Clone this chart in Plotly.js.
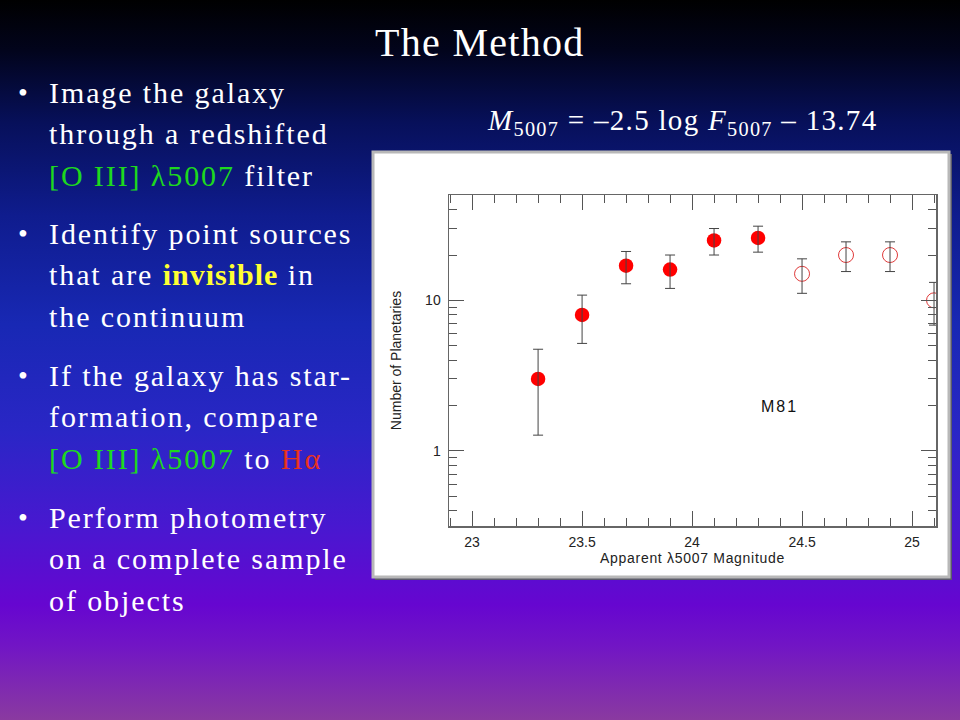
<!DOCTYPE html>
<html>
<head>
<meta charset="utf-8">
<script src="https://cdn.plot.ly/plotly-3.0.1.min.js"></script>
<style>
html,body{margin:0;padding:0;width:960px;height:720px;overflow:hidden;}
body{background:linear-gradient(to bottom,#000000 0%,#02041c 7%,#07105a 17%,#0f1c8e 30%,#1828b4 45%,#2a26c6 60%,#4818d0 73%,#6606d0 84%,#7216c4 90%,#8a3aa0 100%);}
#chart{width:960px;height:720px;}
</style>
</head>
<body>
<div id="chart"></div>
<script>
// ---- data ----
const magFilled = [23.3, 23.5, 23.7, 23.9, 24.1, 24.3];
const countFilled = [3, 8, 17, 16, 25, 26];
const errFilled = [1.73, 2.83, 4.12, 4.0, 5.0, 5.1];

const magOpen = [24.5, 24.7, 24.9, 25.1];
const countOpen = [15, 20, 20, 10];
const errOpen = [3.87, 4.47, 4.47, 3.16];

const xTickVals = [23, 23.5, 24, 24.5, 25];
const xTickText = ['23', '23.5', '24', '24.5', '25'];
const xMinorVals = [22.9, 23.1, 23.2, 23.3, 23.4, 23.6, 23.7, 23.8, 23.9, 24.1, 24.2, 24.3, 24.4, 24.6, 24.7, 24.8, 24.9, 25.1];
const yTickVals = [1, 10];
const yTickText = ['1', '10'];
const yMinorVals = [0.4, 0.5, 0.6, 0.7, 0.8, 0.9, 2, 3, 4, 5, 6, 7, 8, 9, 20, 30, 40];

const titleText = 'The Method';
const formulaText = '<i>M</i><sub>5007</sub> = \u20132.5 log <i>F</i><sub>5007</sub> \u2013 13.74';
const GREEN = '#1ed81e', YELLOW = '#ffff33', RED = '#e8321e';
const bulletLines = [
  ['Image the galaxy', 'through a redshifted', '<span style="color:' + GREEN + '">[O III] \u03bb5007</span> filter'],
  ['Identify point sources', 'that are <b><span style="color:' + YELLOW + ';letter-spacing:1px">invisible</span></b> in', 'the continuum'],
  ['If the galaxy has star-', 'formation, compare', '<span style="color:' + GREEN + '">[O III] \u03bb5007</span> to <span style="color:' + RED + '">H\u03b1</span>'],
  ['Perform photometry', 'on a complete sample', 'of objects']
];
const bulletTops = [92, 233, 375, 517];

// ---- layout geometry (pixels) ----
const W = 960, H = 720;
const ML = 449, MR = 24, MT = 195, MB = 194;
const PW = W - ML - MR, PH = H - MT - MB;
const PX = x => (x - ML) / PW;
const PY = y => (H - MB - y) / PH;
const spaced = (t, px) => '<span style="letter-spacing:' + px + 'px">' + t + '</span>';

const SERIF = 'Liberation Serif, Times New Roman, serif';
const SANS = 'Liberation Sans, Arial, sans-serif';

const annotations = [];
annotations.push({text: spaced(titleText, 1.3), x: PX(480), y: PY(42), xref: 'paper', yref: 'paper', xanchor: 'center', yanchor: 'middle', showarrow: false,
  font: {family: SERIF, size: 40, color: '#ffffff'}});
annotations.push({text: spaced(formulaText, 1.3), x: PX(682), y: PY(122), xref: 'paper', yref: 'paper', xanchor: 'center', yanchor: 'middle', showarrow: false,
  font: {family: SERIF, size: 29, color: '#ffffff'}});
bulletLines.forEach((lines, i) => {
  annotations.push({text: '\u2022', x: PX(16), y: PY(bulletTops[i]), xref: 'paper', yref: 'paper', xanchor: 'left', yanchor: 'middle', showarrow: false,
    font: {family: SERIF, size: 28, color: '#ffffff'}});
  lines.forEach((t, j) => {
    annotations.push({text: spaced(t, 1.9), x: PX(47), y: PY(bulletTops[i] + j * 41.5), xref: 'paper', yref: 'paper', xanchor: 'left', yanchor: 'middle', showarrow: false,
      font: {family: SERIF, size: 30, color: '#ffffff'}});
  });
});
annotations.push({text: spaced('M81', 2), x: PX(779), y: PY(406), xref: 'paper', yref: 'paper', xanchor: 'center', yanchor: 'middle', showarrow: false,
  font: {family: SANS, size: 16, color: '#111111'}});

const tickFont = {family: SANS, size: 14, color: '#222222'};
const titleFont = {family: SANS, size: 14, color: '#222222'};

const traces = [
  {x: magFilled, y: countFilled, type: 'scatter', mode: 'markers',
   marker: {symbol: 'circle', size: 14.5, color: '#ff0000', line: {width: 0}}, showlegend: false},
  {x: magOpen, y: countOpen, type: 'scatter', mode: 'markers',
   marker: {symbol: 'circle-open', size: 15, color: '#e03a3a', line: {width: 1, color: '#e03a3a'}}, showlegend: false},
  {x: magFilled, y: countFilled, type: 'scatter', mode: 'markers', marker: {size: 1, opacity: 0},
   error_y: {type: 'data', array: errFilled, symmetric: true, color: '#444444', thickness: 1, width: 5}, showlegend: false},
  {x: magOpen, y: countOpen, type: 'scatter', mode: 'markers', marker: {size: 1, opacity: 0},
   error_y: {type: 'data', array: errOpen, symmetric: true, color: '#444444', thickness: 1, width: 5}, showlegend: false}
];

const layout = {
  width: W, height: H,
  margin: {l: ML, r: MR, t: MT, b: MB, pad: 0},
  paper_bgcolor: 'rgba(0,0,0,0)',
  plot_bgcolor: '#ffffff',
  showlegend: false,
  xaxis: {
    range: [22.895, 25.109], tickvals: xTickVals, ticktext: xTickText,
    ticks: 'inside', ticklen: 15, tickwidth: 1, tickcolor: '#555555',
    showline: true, linecolor: '#666666', linewidth: 1.5, mirror: 'allticks',
    showgrid: false, zeroline: false, tickfont: tickFont, ticklabelstandoff: 3,
    minor: {tickvals: xMinorVals, ticks: 'inside', ticklen: 8, tickwidth: 1, tickcolor: '#555555', showgrid: false},
    title: {text: spaced('Apparent \u03bb5007 Magnitude', 0.7), font: titleFont, standoff: 4}
  },
  yaxis: {
    type: 'log', range: [-0.5, 1.7], tickvals: yTickVals, ticktext: yTickText,
    ticks: 'inside', ticklen: 15, tickwidth: 1, tickcolor: '#555555',
    showline: true, linecolor: '#666666', linewidth: 1.5, mirror: 'allticks',
    showgrid: false, zeroline: false, tickfont: tickFont, ticklabelstandoff: 4,
    minor: {tickvals: yMinorVals, ticks: 'inside', ticklen: 8, tickwidth: 1, tickcolor: '#555555', showgrid: false},
    title: {text: 'Number of Planetaries', font: titleFont, standoff: 20}
  },
  shapes: [
    {type: 'rect', xref: 'paper', yref: 'paper', x0: PX(375), x1: PX(952), y0: PY(580), y1: PY(154),
     fillcolor: '#5a5a6a', line: {width: 0}, layer: 'below'},
    {type: 'rect', xref: 'paper', yref: 'paper', x0: PX(373), x1: PX(949), y0: PY(577), y1: PY(152),
     fillcolor: '#ffffff', line: {color: '#b8b8b8', width: 3}, layer: 'below'}
  ],
  annotations: annotations
};

Plotly.newPlot('chart', traces, layout, {staticPlot: true, displayModeBar: false});
</script>
</body>
</html>
